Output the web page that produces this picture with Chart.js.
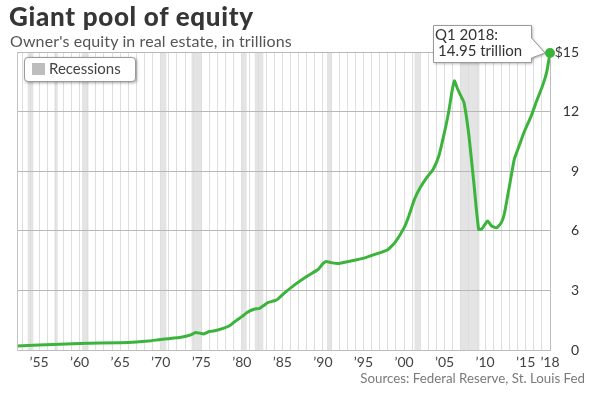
<!DOCTYPE html>
<html><head><meta charset="utf-8">
<script src="https://cdn.jsdelivr.net/npm/chart.js@4"></script>
<style>
html,body{margin:0;padding:0;background:#fff;}
#wrap{position:relative;width:600px;height:398px;overflow:hidden;font-family:Lato,"DejaVu Sans",sans-serif;}
#c{position:absolute;left:0;top:0;}
#title{position:absolute;left:9px;top:0px;font-weight:900;font-size:26px;letter-spacing:0.7px;color:#363636;white-space:nowrap;}
#sub{position:absolute;left:10px;top:31px;font-size:16px;letter-spacing:0.12px;color:#555;white-space:nowrap;}
#legend{position:absolute;left:24px;top:57px;width:110px;height:23px;border:1px solid #9a9a9a;border-radius:4px;background:#fff;box-shadow:1px 1px 3px rgba(0,0,0,0.35);}
#legend .sw{position:absolute;left:7px;top:5px;width:13px;height:12px;background:#bdbdbd;}
#legend .tx{position:absolute;left:24px;top:1px;font-size:15px;color:#444;white-space:nowrap;}
#src{position:absolute;right:15px;top:370px;font-size:13.3px;color:#7a7a7a;white-space:nowrap;}
</style></head>
<body>
<div id="wrap">
<canvas id="c" width="600" height="398"></canvas>
<div id="title">Giant pool of equity</div>
<div id="sub">Owner's equity in real estate, in trillions</div>
<div id="legend"><div class="sw"></div><div class="tx">Recessions</div></div>
<div id="src">Sources: Federal Reserve, St. Louis Fed</div>
</div>
<script>
// Data (year as decimal, owner's equity in trillions of dollars)
const years = [1952.28,1955,1960,1965,1967,1968.5,1970,1971,1972.5,1973.7,1974.3,1974.9,1975.3,1976,1976.8,1977.5,1978.5,1979.3,1980,1980.7,1981.5,1982.2,1982.7,1983.2,1984,1984.4,1985.2,1986.5,1988,1989.4,1990,1990.4,1991,1991.9,1992.7,1993.9,1995.2,1996.4,1998,1998.9,2000,2000.6,2001.3,2002,2002.8,2003.6,2004.3,2004.9,2005.5,2005.9,2006.2,2006.6,2007.0,2007.4,2008.0,2008.6,2009.2,2009.6,2010.3,2010.8,2011.4,2012.0,2012.4,2013.0,2013.6,2014.2,2014.8,2015.7,2016.3,2017.1,2017.6,2018.0];
const equity = [0.20,0.25,0.33,0.37,0.40,0.45,0.53,0.57,0.64,0.76,0.88,0.84,0.81,0.93,0.98,1.06,1.22,1.48,1.68,1.90,2.05,2.10,2.24,2.38,2.48,2.55,2.85,3.28,3.70,4.05,4.35,4.45,4.40,4.35,4.42,4.52,4.64,4.81,5.05,5.42,6.15,6.75,7.60,8.18,8.68,9.10,9.78,10.80,11.97,12.98,13.55,13.15,12.80,12.45,10.80,8.45,6.07,6.10,6.49,6.24,6.15,6.41,6.91,8.26,9.61,10.28,10.96,11.80,12.48,13.32,14.00,14.95];
const recessionStart = [1953.6,1956.9,1960.3,1969.9,1973.8,1980.0,1981.6,1990.5,2001.3,2006.95];
const recessionEnd   = [1954.3,1957.3,1961.1,1970.7,1975.05,1980.6,1982.65,1991.1,2001.95,2009.3];
const gridYears = []; for (let y = 1953; y <= 2018; y++) gridYears.push(y);
const labelYears = [1955,1960,1965,1970,1975,1980,1985,1990,1995,2000,2005,2010,2015,2018];
const yTicks = [0,3,6,9,12,15];
const calloutLines = ['Q1 2018:','14.95 trillion'];

const GREEN = '#3cb43c';
const FONT = 'Lato, "DejaVu Sans", sans-serif';

const extras = {
  id: 'extras',
  beforeDraw(chart) {
    const {ctx, chartArea: a, scales: {x}} = chart;
    ctx.save();
    ctx.fillStyle = '#e4e4e4';
    recessionStart.forEach((s, i) => {
      const x0 = x.getPixelForValue(s), x1 = x.getPixelForValue(recessionEnd[i]);
      ctx.fillRect(x0, a.top, x1 - x0, a.bottom - a.top);
    });
    ctx.restore();
  },
  afterDatasetsDraw(chart) {
    const {ctx, chartArea: a} = chart;
    ctx.save();
    ctx.strokeStyle = '#c4c4c4';
    ctx.lineWidth = 1;
    ctx.beginPath();
    ctx.moveTo(a.left + 0.5, a.top);
    ctx.lineTo(a.left + 0.5, a.bottom);
    ctx.stroke();
    ctx.restore();
  },
  afterDraw(chart) {
    const {ctx} = chart;
    const meta = chart.getDatasetMeta(0);
    const pt = meta.data[meta.data.length - 1];
    const px = pt.x, py = pt.y;
    const right = px - 19, left = right - 98, top = py - 28, bottom = py + 9;
    ctx.save();
    ctx.shadowColor = 'rgba(0,0,0,0.35)';
    ctx.shadowBlur = 3;
    ctx.shadowOffsetX = 1;
    ctx.shadowOffsetY = 1;
    ctx.fillStyle = '#fff';
    ctx.strokeStyle = '#9a9a9a';
    ctx.lineWidth = 1;
    ctx.beginPath();
    ctx.moveTo(left + 0.5, top + 0.5);
    ctx.lineTo(right + 0.5, top + 0.5);
    ctx.lineTo(right + 0.5, top + 13);
    ctx.lineTo(px - 5, py);
    ctx.lineTo(right + 0.5, bottom - 4);
    ctx.lineTo(right + 0.5, bottom + 0.5);
    ctx.lineTo(left + 0.5, bottom + 0.5);
    ctx.closePath();
    ctx.fill();
    ctx.shadowColor = 'transparent';
    ctx.stroke();
    ctx.fillStyle = '#333';
    ctx.font = '15px ' + FONT;
    ctx.textBaseline = 'alphabetic';
    ctx.fillText(calloutLines[0], left + 2, top + 15);
    ctx.fillText(calloutLines[1], left + 5, top + 31);
    ctx.beginPath();
    ctx.fillStyle = GREEN;
    ctx.arc(px, py, 5, 0, Math.PI * 2);
    ctx.fill();
    ctx.restore();
  }
};

new Chart(document.getElementById('c'), {
  type: 'line',
  data: {
    datasets: [{
      data: years.map((y, i) => ({x: y, y: equity[i]})),
      borderColor: GREEN,
      borderWidth: 3,
      pointRadius: 0,
      tension: 0.15,
      fill: false
    }]
  },
  options: {
    responsive: false,
    animation: false,
    layout: {padding: {left: 17, top: 52, right: 21, bottom: 26}},
    plugins: {legend: {display: false}, tooltip: {enabled: false}},
    scales: {
      x: {
        type: 'linear',
        min: years[0],
        max: 2018,
        afterBuildTicks: s => { s.ticks = gridYears.map(v => ({value: v})); },
        afterFit: s => { s.height = 22; },
        grid: {color: '#dedede', lineWidth: 1, drawTicks: false},
        border: {color: '#bdbdbd'},
        ticks: {
          autoSkip: false, maxRotation: 0, padding: 4,
          color: '#444', font: {family: FONT, size: 14},
          callback: v => labelYears.includes(v) ? '\u2019' + String(v).slice(2) : ''
        }
      },
      y: {
        position: 'right',
        min: 0, max: 15,
        afterBuildTicks: s => { s.ticks = yTicks.map(v => ({value: v})); },
        afterFit: s => { s.width = 29; },
        grid: {color: '#b8b8b8', lineWidth: 1, drawTicks: false},
        border: {color: '#bdbdbd'},
        ticks: {
          crossAlign: 'far', padding: 4,
          color: '#333', font: {family: FONT, size: 14},
          callback: v => v === 15 ? '$15' : String(v)
        }
      }
    }
  },
  plugins: [extras]
});
</script>
</body></html>
